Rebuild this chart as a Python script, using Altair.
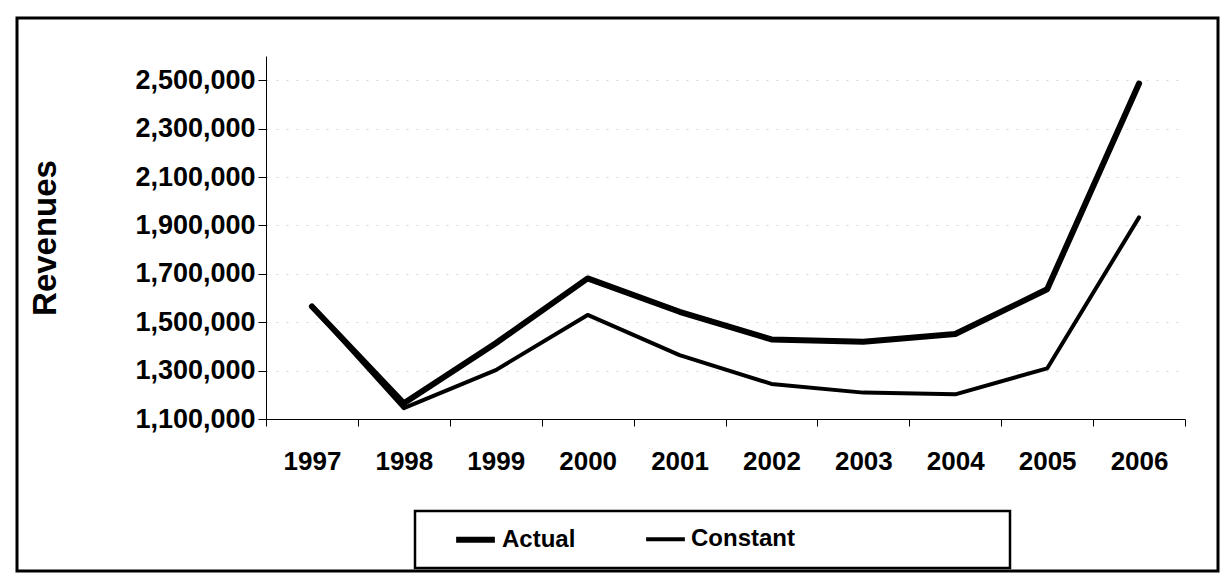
import altair as alt
import pandas as pd

years = ["1997", "1998", "1999", "2000", "2001", "2002", "2003", "2004", "2005", "2006"]
actual = [1565000, 1165000, 1413000, 1681000, 1543000, 1429000, 1419000, 1451000, 1636000, 2486000]
constant = [1565000, 1145000, 1302000, 1530000, 1364000, 1245000, 1209000, 1202000, 1309000, 1933000]
series_names = ["Actual", "Constant"]
y_ticks = [1100000, 1300000, 1500000, 1700000, 1900000, 2100000, 2300000, 2500000]

rows = []
for yr, a, c in zip(years, actual, constant):
    rows.append({"year": yr, "series": "Actual", "value": a})
    rows.append({"year": yr, "series": "Constant", "value": c})
df = pd.DataFrame(rows)

FONT = "Liberation Sans"
W, H = 919, 363

leg = dict(title=None, orient="none", direction="horizontal",
           legendX=187, legendY=461,
           symbolType="stroke", symbolSize=1500,
           labelFont=FONT, labelFontSize=24, labelFontWeight="bold",
           labelColor="black", labelOffset=4, columnPadding=62)

lines = alt.Chart(df).mark_line(strokeCap="round", strokeJoin="round").encode(
    x=alt.X("year:N", sort=years,
            scale=alt.Scale(paddingInner=0, paddingOuter=0),
            axis=alt.Axis(title=None, labelAngle=0, tickBand="extent",
                          labelFont=FONT, labelFontSize=26, labelFontWeight="bold",
                          labelColor="black", labelPadding=22, tickSize=7,
                          domainColor="black", tickColor="black", grid=False)),
    y=alt.Y("value:Q",
            scale=alt.Scale(domain=[1100000, 2600000], nice=False, zero=False),
            axis=alt.Axis(title="Revenues", values=y_ticks, format=",d",
                          labelFont=FONT, labelFontSize=27, labelFontWeight="bold",
                          labelColor="black", labelPadding=3, tickSize=8,
                          titleFont=FONT, titleFontSize=33, titleFontWeight="bold",
                          titleColor="black", titlePadding=72,
                          domainColor="black", tickColor="black",
                          grid=True, gridColor="#d4d4d4", gridDash=[2, 8],
                          gridWidth=1)),
    color=alt.Color("series:N", scale=alt.Scale(domain=series_names, range=["black", "black"]),
                    legend=alt.Legend(**leg)),
    strokeWidth=alt.StrokeWidth("series:N",
                                scale=alt.Scale(domain=series_names, range=[6, 4]),
                                legend=alt.Legend(**leg)),
)

frame_data = alt.Data(values=[{"k": 1}])
outer_box = alt.Chart(frame_data).mark_rect(filled=False, stroke="black", strokeWidth=3).encode(
    x=alt.value(-249), x2=alt.value(952), y=alt.value(-38), y2=alt.value(515)
)
legend_box = alt.Chart(frame_data).mark_rect(filled=False, stroke="black", strokeWidth=2.5).encode(
    x=alt.value(149), x2=alt.value(744), y=alt.value(455), y2=alt.value(512)
)

chart = alt.layer(outer_box, legend_box, lines).properties(
    width=W, height=H,
    background="white",
    padding={"left": 258, "top": 48, "right": 35, "bottom": 155},
    autosize=alt.AutoSizeParams(type="none"),
).configure_view(stroke=None)

chart.save("out.html", embed_options={"renderer": "svg", "actions": False})
